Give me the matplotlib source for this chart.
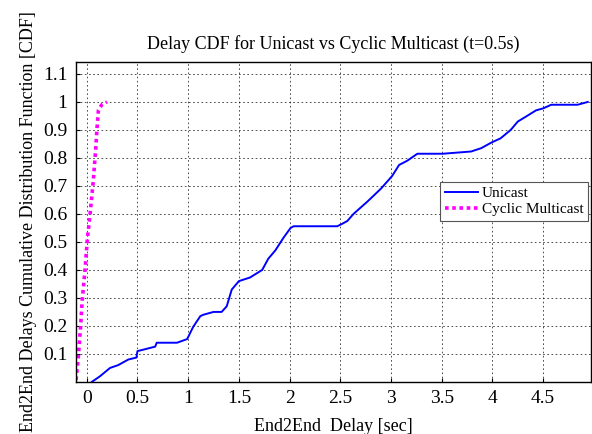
import matplotlib
matplotlib.use('Agg')
import matplotlib.pyplot as plt

# Unicast CDF trace (delay sec, CDF)
unicast_x = [0.05, 0.13, 0.23, 0.31, 0.41, 0.49, 0.50, 0.675, 0.69, 0.89, 0.99, 1.05, 1.12, 1.15,
             1.25, 1.33, 1.38, 1.43, 1.50, 1.61, 1.73, 1.79, 1.86, 1.94, 2.01, 2.04, 2.47, 2.52,
             2.57, 2.63, 2.77, 2.90, 3.01, 3.08, 3.16, 3.26, 3.51, 3.79, 3.89, 3.99, 4.08, 4.18,
             4.25, 4.35, 4.43, 4.50, 4.58, 4.84, 4.94]
unicast_y = [0.0, 0.02, 0.05, 0.06, 0.08, 0.087, 0.11, 0.126, 0.14, 0.14, 0.153, 0.197, 0.235, 0.24,
             0.25, 0.25, 0.27, 0.33, 0.36, 0.373, 0.40, 0.44, 0.47, 0.515, 0.55, 0.556, 0.556, 0.565,
             0.575, 0.60, 0.645, 0.69, 0.735, 0.775, 0.79, 0.815, 0.815, 0.823, 0.835, 0.855, 0.87,
             0.90, 0.93, 0.952, 0.97, 0.977, 0.99, 0.99, 1.0]

# Cyclic multicast CDF trace
multicast_x = [-0.105, -0.083, -0.06, -0.045, -0.017, 0.006, 0.033, 0.065, 0.09, 0.10, 0.115, 0.148, 0.20]
multicast_y = [0.007, 0.09, 0.2, 0.29, 0.4, 0.51, 0.6, 0.72, 0.84, 0.9, 0.97, 0.99, 1.0]

x_ticks = [0, 0.5, 1, 1.5, 2, 2.5, 3, 3.5, 4, 4.5]
x_ticklabels = ['0', '0.5', '1', '1.5', '2', '2.5', '3', '3.5', '4', '4.5']
y_ticks = [0.1, 0.2, 0.3, 0.4, 0.5, 0.6, 0.7, 0.8, 0.9, 1.0, 1.1]
y_ticklabels = ['0.1', '0.2', '0.3', '0.4', '0.5', '0.6', '0.7', '0.8', '0.9', '1', '1.1']

plt.rcParams['font.family'] = ['Liberation Serif', 'DejaVu Serif']

fig = plt.figure(figsize=(5.92, 4.34), dpi=100)
ax = fig.add_axes([0.128, 0.12, 0.87, 0.738])

ax.plot(unicast_x, unicast_y, color='#0000ff', lw=1.4, label='Unicast')
ax.plot(multicast_x, multicast_y, color='#ff00ff', lw=2.6, ls=(0, (1, 1)), label='Cyclic Multicast')

ax.set_xlim(-0.108, 4.97)
ax.set_ylim(0.0, 1.144)
ax.set_xticks(x_ticks)
ax.set_xticklabels(x_ticklabels)
ax.set_yticks(y_ticks)
ax.set_yticklabels(y_ticklabels)
ax.tick_params(direction='in', length=3, labelsize=14, pad=6)
ax.grid(True, color='black', ls=(0, (2, 3)), lw=0.6, alpha=0.8)
for sp in ax.spines.values():
    sp.set_linewidth(1.0)

ax.set_title('Delay CDF for Unicast vs Cyclic Multicast (t=0.5s)', fontsize=13, pad=9)
ax.set_xlabel('End2End  Delay [sec]', fontsize=13, labelpad=8)
ax.set_ylabel('End2End Delays Cumulative Distribution Function [CDF]', fontsize=13, labelpad=4)

leg = ax.legend(loc='upper right', bbox_to_anchor=(0.995, 0.625), borderaxespad=0,
                fontsize=11, fancybox=False, framealpha=1, edgecolor='#555555',
                handlelength=2.2, borderpad=0.3, labelspacing=0.15, handletextpad=0.25)
leg.get_frame().set_linewidth(0.8)

fig.savefig('out.png', dpi=100)
